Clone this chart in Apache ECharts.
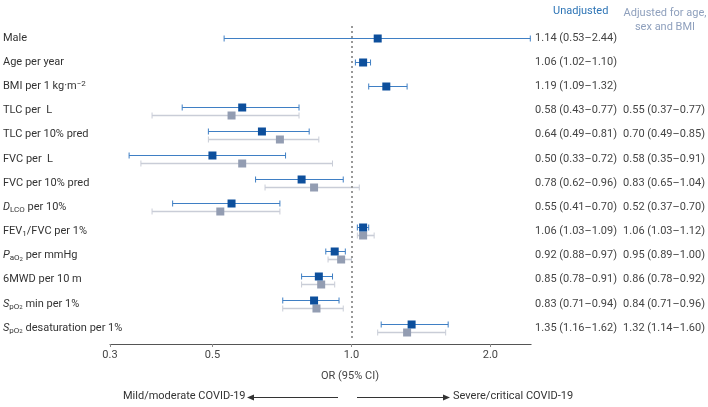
<!DOCTYPE html>
<html><head><meta charset="utf-8">
<script src="https://cdn.jsdelivr.net/npm/echarts@6/dist/echarts.min.js"></script>
<style>html,body{margin:0;padding:0;background:#fff}#c{width:708px;height:407px}</style>
</head><body><div id="c"></div>
<script>
const categories = [
  'Male', 'Age per year', 'BMI per 1 kg·m{sup|−2}', 'TLC per  L', 'TLC per 10% pred',
  'FVC per  L', 'FVC per 10% pred', '{i|D}{s|LCO} per 10%', 'FEV{s|1}/FVC per 1%',
  '{i|P}{s|aO}{ss|2} per mmHg', '6MWD per 10 m', '{i|S}{s|pO}{ss|2} min per 1%', '{i|S}{s|pO}{ss|2} desaturation per 1%'
];
const unadjEst = [1.14, 1.06, 1.19, 0.58, 0.64, 0.50, 0.78, 0.55, 1.06, 0.92, 0.85, 0.83, 1.35];
const unadjLo  = [0.53, 1.02, 1.09, 0.43, 0.49, 0.33, 0.62, 0.41, 1.03, 0.88, 0.78, 0.71, 1.16];
const unadjHi  = [2.44, 1.10, 1.32, 0.77, 0.81, 0.72, 0.96, 0.70, 1.09, 0.97, 0.91, 0.94, 1.62];
const adjEst = [null, null, null, 0.55, 0.70, 0.58, 0.83, 0.52, 1.06, 0.95, 0.86, 0.84, 1.32];
const adjLo  = [null, null, null, 0.37, 0.49, 0.35, 0.65, 0.37, 1.03, 0.89, 0.78, 0.71, 1.14];
const adjHi  = [null, null, null, 0.77, 0.85, 0.91, 1.04, 0.70, 1.12, 1.00, 0.92, 0.96, 1.60];
const unadjText = ['1.14 (0.53–2.44)','1.06 (1.02–1.10)','1.19 (1.09–1.32)','0.58 (0.43–0.77)','0.64 (0.49–0.81)','0.50 (0.33–0.72)','0.78 (0.62–0.96)','0.55 (0.41–0.70)','1.06 (1.03–1.09)','0.92 (0.88–0.97)','0.85 (0.78–0.91)','0.83 (0.71–0.94)','1.35 (1.16–1.62)'];
const adjText = ['','','','0.55 (0.37–0.77)','0.70 (0.49–0.85)','0.58 (0.35–0.91)','0.83 (0.65–1.04)','0.52 (0.37–0.70)','1.06 (1.03–1.12)','0.95 (0.89–1.00)','0.86 (0.78–0.92)','0.84 (0.71–0.96)','1.32 (1.14–1.60)'];
const xTicks = [0.3, 0.5, 1.0, 2.0];

const FONT = 'Roboto';
const BLUE_LINE = '#3f7fc4', BLUE_MARK = '#0d4f9c';
const GREY_LINE = '#c9cdd7', GREY_MARK = '#939db2';

function rows(est, lo, hi, other, dir) {
  const out = [];
  for (let i = 0; i < est.length; i++) {
    if (est[i] == null) continue;
    const off = other[i] == null ? 0 : dir * 4;
    out.push([i, est[i], lo[i], hi[i], off]);
  }
  return out;
}
function makeRender(lineColor, markColor, lw) {
  return function (params, api) {
    const i = api.value(0);
    const off = api.value(4);
    const pE = api.coord([api.value(1), i]);
    const pL = api.coord([api.value(2), i]);
    const pH = api.coord([api.value(3), i]);
    const y = Math.round(pE[1] + off) + 0.5;
    const ls = { stroke: lineColor, lineWidth: lw };
    const cs = { stroke: lineColor, lineWidth: 1 };
    return {
      type: 'group',
      children: [
        { type: 'line', shape: { x1: pL[0], y1: y, x2: pH[0], y2: y }, style: ls },
        { type: 'line', shape: { x1: pL[0], y1: y - 3, x2: pL[0], y2: y + 3 }, style: cs },
        { type: 'line', shape: { x1: pH[0], y1: y - 3, x2: pH[0], y2: y + 3 }, style: cs },
        { type: 'rect', shape: { x: pE[0] - 4, y: y - 4, width: 8, height: 8 }, style: { fill: markColor } }
      ]
    };
  };
}
const richLabel = {
  i: { fontFamily: FONT, fontSize: 11, fontStyle: 'italic', color: '#333' },
  s: { fontFamily: FONT, fontSize: 8, color: '#333', verticalAlign: 'bottom', padding: [5, 0, 0, 0] },
  ss: { fontFamily: FONT, fontSize: 6, color: '#333', verticalAlign: 'bottom', padding: [8, 0, 0, 0] },
  sup: { fontFamily: FONT, fontSize: 8, color: '#333', verticalAlign: 'top', padding: [0, 0, 5, 0] }
};
const chart = echarts.init(document.getElementById('c'), null, { renderer: 'canvas' });
chart.setOption({
  animation: false,
  textStyle: { fontFamily: FONT },
  grid: { left: 110, right: 176, top: 26, height: 314, containLabel: false },
  xAxis: {
    type: 'log', logBase: 10, min: 0.3, max: 2.45, offset: 4,
    axisLine: { show: true, lineStyle: { color: '#555', width: 1 } },
    axisTick: { show: true, customValues: xTicks, length: 3, lineStyle: { color: '#888' } },
    splitLine: { show: false },
    axisLabel: { customValues: xTicks, formatter: v => Number(v).toFixed(1), color: '#444', fontSize: 11, fontFamily: FONT, margin: 6 }
  },
  yAxis: [
    { type: 'category', data: categories, inverse: true, axisLine: { show: false }, axisTick: { show: false },
      axisLabel: { align: 'left', margin: 107, color: '#333', fontSize: 11, fontFamily: FONT, rich: richLabel } },
    { type: 'category', data: unadjText, inverse: true, position: 'right', axisLine: { show: false }, axisTick: { show: false },
      axisLabel: { align: 'left', margin: 4, color: '#444', fontSize: 11, fontFamily: FONT } },
    { type: 'category', data: adjText, inverse: true, position: 'right', offset: 88, axisLine: { show: false }, axisTick: { show: false },
      axisLabel: { align: 'left', margin: 4, color: '#444', fontSize: 11, fontFamily: FONT } }
  ],
  series: [
    { type: 'custom', name: 'Adjusted', renderItem: makeRender(GREY_LINE, GREY_MARK, 1.6), data: rows(adjEst, adjLo, adjHi, unadjEst, 1),
      encode: { x: [1, 2, 3], y: 0 }, clip: false,
      markLine: { silent: true, symbol: 'none', label: { show: false },
        lineStyle: { color: '#999', width: 2, type: [2, 3] }, data: [{ xAxis: 1 }] } },
    { type: 'custom', name: 'Unadjusted', renderItem: makeRender(BLUE_LINE, BLUE_MARK, 1), data: rows(unadjEst, unadjLo, unadjHi, adjEst, -1),
      encode: { x: [1, 2, 3], y: 0 }, clip: false }
  ],
  graphic: [
    { type: 'text', left: 553, top: 6, style: { text: 'Unadjusted', fill: '#2e75b6', font: '11px ' + FONT } },
    { type: 'text', x: 665, y: 6, style: { text: 'Adjusted for age,\nsex and BMI', fill: '#8fa0bd', font: '11px ' + FONT, align: 'center', lineHeight: 14 } },
    { type: 'text', x: 350, y: 371, style: { text: 'OR (95% CI)', fill: '#444', font: '11px ' + FONT, align: 'center' } },
    { type: 'text', x: 123, y: 391, style: { text: 'Mild/moderate COVID-19', fill: '#333', font: '11px ' + FONT } },
    { type: 'line', shape: { x1: 250, y1: 397.5, x2: 338, y2: 397.5 }, style: { stroke: '#333', lineWidth: 1 } },
    { type: 'polygon', shape: { points: [[247, 397.5], [254, 394.5], [254, 400.5]] }, style: { fill: '#333' } },
    { type: 'line', shape: { x1: 357, y1: 397.5, x2: 444, y2: 397.5 }, style: { stroke: '#333', lineWidth: 1 } },
    { type: 'polygon', shape: { points: [[450, 397.5], [443, 394.5], [443, 400.5]] }, style: { fill: '#333' } },
    { type: 'text', x: 453, y: 391, style: { text: 'Severe/critical COVID-19', fill: '#333', font: '11px ' + FONT } }
  ]
});
</script></body></html>
